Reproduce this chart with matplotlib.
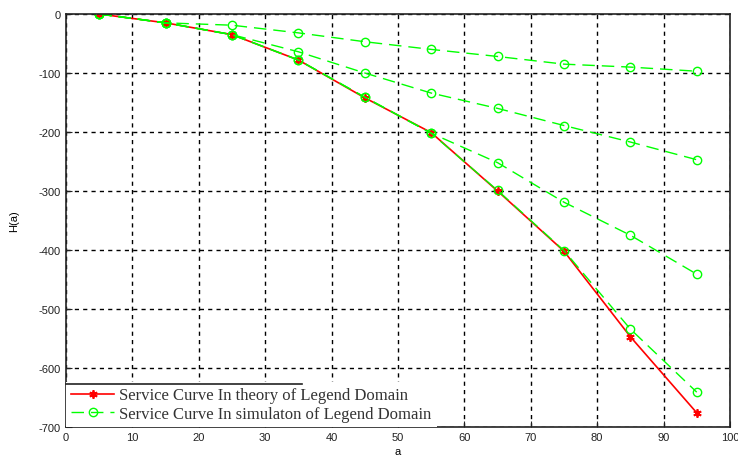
import matplotlib.pyplot as plt
from matplotlib.lines import Line2D

# values
a_theory = [5, 15, 25, 35, 45, 55, 65, 75, 85, 95]
h_theory = [0, -15, -35, -78, -142, -201, -300, -402, -547, -676]

a_sim = [5, 15, 25, 35, 45, 55, 65, 75, 85, 95]
h_sim_1 = [0, -15, -19, -32, -47, -60, -72, -85, -90, -97]
h_sim_2 = [0, -15, -35, -64, -100, -134, -160, -189, -217, -247]
h_sim_3 = [0, -15, -35, -78, -141, -202, -252, -319, -375, -441]
h_sim_4 = [0, -15, -35, -78, -141, -202, -299, -401, -534, -641]

labels = ["Service Curve In theory of Legend Domain",
          "Service Curve In simulaton of Legend Domain"]

plt.rcParams["font.family"] = ["Liberation Sans", "DejaVu Sans"]
plt.rcParams["axes.unicode_minus"] = False

fig = plt.figure(figsize=(7.38, 4.6), dpi=100)
ax = fig.add_axes([0.0894, 0.0696, 0.8997, 0.8978])

green = "#00ff00"
sim_style = dict(color=green, linestyle=(0, (9, 5)), linewidth=1.0,
                 marker="o", markersize=6, markerfacecolor="none",
                 markeredgecolor=green, markeredgewidth=1.0)
theory_style = dict(color="red", linewidth=1.2, marker=(6, 2, 0),
                    markersize=6, markeredgewidth=1.3)

ax.plot(a_theory, h_theory, **theory_style)
ax.plot(a_sim, h_sim_1, **sim_style)
ax.plot(a_sim, h_sim_2, **sim_style)
ax.plot(a_sim, h_sim_3, **sim_style)
ax.plot(a_sim, h_sim_4, **sim_style)

ax.set_xlim(0, 100)
ax.set_ylim(-700, 0)
ax.set_xticks(range(0, 101, 10))
ax.set_yticks(range(-700, 1, 100))
ax.grid(True, color="black", linestyle=(0, (3, 3)), linewidth=1.0)
ax.tick_params(direction="in", length=4, labelsize=8, colors="#222222")
for s in ax.spines.values():
    s.set_color("#222222")
    s.set_linewidth(1.2)

ax.set_xlabel("a", fontsize=8, labelpad=3)
ax.set_ylabel("H(a)", fontsize=8, labelpad=14)

handles = [Line2D([], [], **theory_style), Line2D([], [], **sim_style)]
leg = ax.legend(handles, labels, loc="lower left", borderaxespad=0.0,
                prop={"family": "Liberation Serif", "size": 12},
                fancybox=False, framealpha=1.0, edgecolor="none",
                handlelength=2.6, handletextpad=0.3, labelspacing=0.15,
                borderpad=0.3)
for t in leg.get_texts():
    t.set_color("#333333")
leg.set_zorder(5)

# partial top border of the legend box, as in the reference
ax.plot([0, 0.355], [0.105, 0.105], transform=ax.transAxes, color="#222222",
        linewidth=1.2, clip_on=False, zorder=6)

fig.savefig("out.png", dpi=100)
